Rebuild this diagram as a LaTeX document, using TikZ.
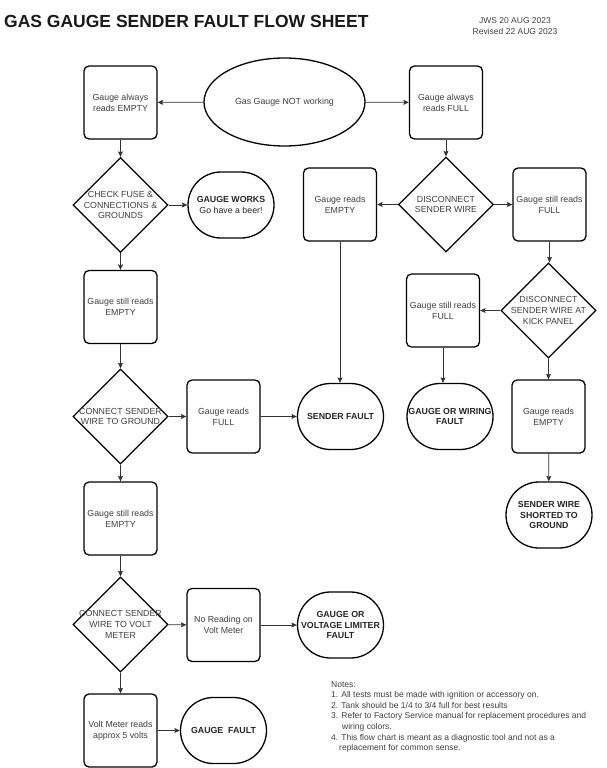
\documentclass[tikz,border=0pt]{standalone}
\usepackage{fontspec}
\setmainfont{Liberation Sans}
\usetikzlibrary{positioning,arrows.meta,shapes}

\begin{document}
\begin{tikzpicture}[x=1pt, y=-1pt,
  >={Stealth[length=5.5pt,width=5pt,inset=1pt]},
  chkbox/.style={draw, line width=1.3pt, rounded corners=5pt, minimum width=73pt, minimum height=73pt,
    inner sep=1pt, align=center, text=black!75, font=\fontsize{8.8}{11}\selectfont},
  decide/.style={draw, diamond, line width=1.3pt, minimum width=95pt, minimum height=95pt, inner sep=0pt},
  dtext/.style={align=center, text=black!75, font=\fontsize{8.8}{10.6}\selectfont},
  result/.style={draw, rounded rectangle, line width=1.3pt, minimum width=88pt, minimum height=66pt,
    inner sep=1pt, align=center, text=black!85, font=\fontsize{8.8}{10.6}\selectfont\bfseries},
  flow/.style={->, line width=0.75pt, draw=black!80}]
  \useasboundingbox (0,0) rectangle (607,768);

  % heading
  \node[anchor=west, inner sep=0pt, text=black!90, font=\fontsize{17.5}{20}\selectfont\bfseries] (title) at (4,21.5) {GAS GAUGE SENDER FAULT FLOW SHEET};
  \node[align=center, inner sep=0pt, text=black!75, font=\fontsize{8.5}{11}\selectfont] (date) at (515,26) {JWS 20 AUG 2023\\Revised 22 AUG 2023};

  % start
  \node[draw, ellipse, line width=1.3pt, minimum width=161pt, minimum height=88pt, inner sep=0pt,
    text=black!75, font=\fontsize{8.8}{11}\selectfont] (start) at (284.5,102) {Gas Gauge NOT working};
  \node[chkbox] (alwempty) at (120.5,102.5) {Gauge always\\reads EMPTY};
  \node[chkbox] (alwfull) at (446,102.5) {Gauge always\\reads FULL};

  % empty side
  \node[decide, label={[dtext]center:CHECK FUSE \&\\CONNECTIONS \&\\GROUNDS}] (fuse) at (120.5,205) {};
  \node[result] (works) at (231,205) {GAUGE WORKS\\\mdseries Go have a beer!};
  \node[chkbox] (still1) at (120.5,307) {Gauge still reads\\EMPTY};
  \node[decide, label={[dtext]center:CONNECT SENDER\\WIRE TO GROUND}] (ground) at (120.5,416.5) {};
  \node[chkbox] (readfull) at (223.5,416.5) {Gauge reads\\FULL};
  \node[result] (sender) at (340.5,416.5) {SENDER FAULT};
  \node[chkbox] (still2) at (120.5,518.5) {Gauge still reads\\EMPTY};
  \node[decide, label={[dtext]center:CONNECT SENDER\\WIRE TO VOLT\\METER}] (volt) at (120.5,624.5) {};
  \node[chkbox] (noread) at (223.5,625) {No Reading on\\Volt Meter};
  \node[result] (limiter) at (340.5,625) {GAUGE OR\\VOLTAGE LIMITER\\FAULT};
  \node[chkbox] (fivev) at (120.5,730.5) {Volt Meter reads\\approx 5 volts};
  \node[result] (gauge) at (223.5,730.5) {GAUGE\ \ FAULT};

  % full side
  \node[decide, label={[dtext]center:DISCONNECT\\SENDER WIRE}] (disc) at (446,204.5) {};
  \node[chkbox] (readempty) at (340,204.5) {Gauge reads\\EMPTY};
  \node[chkbox] (stillfull) at (549.5,204.5) {Gauge still reads\\FULL};
  \node[decide, label={[dtext]center:DISCONNECT\\SENDER WIRE AT\\KICK PANEL}] (kick) at (548.5,310.5) {};
  \node[chkbox] (stillfull2) at (443,310.5) {Gauge still reads\\FULL};
  \node[result] (wiring) at (450,416.5) {GAUGE OR WIRING\\FAULT};
  \node[chkbox] (readempty2) at (548.5,416.5) {Gauge reads\\EMPTY};
  \node[result] (shorted) at (549,515) {SENDER WIRE\\SHORTED TO\\GROUND};

  % notes
  \node[anchor=north west, align=left, inner sep=0pt, text=black!75, font=\fontsize{8.5}{10.6}\selectfont] (notes) at (331,681)
    {Notes:\\
     1. All tests must be made with ignition or accessory on.\\
     2. Tank should be 1/4 to 3/4 full for best results\\
     3. Refer to Factory Service manual for replacement procedures and\\
     \hspace*{11pt}wiring colors.\\
     4. This flow chart is meant as a diagnostic tool and not as a\\
     \hspace*{8pt}replacement for common sense.};

  % connectors
  \draw[flow] (start) -- (alwempty);
  \draw[flow] (start) -- (alwfull);
  \draw[flow] (alwempty) -- (fuse);
  \draw[flow] (fuse) -- (works);
  \draw[flow] (fuse) -- (still1);
  \draw[flow] (still1) -- (ground);
  \draw[flow] (ground) -- (readfull);
  \draw[flow] (readfull) -- (sender);
  \draw[flow] (ground) -- (still2);
  \draw[flow] (still2) -- (volt);
  \draw[flow] (volt) -- (noread);
  \draw[flow] (noread) -- (limiter);
  \draw[flow] (volt) -- (fivev);
  \draw[flow] (fivev) -- (gauge);
  \draw[flow] (alwfull) -- (disc);
  \draw[flow] (disc) -- (readempty);
  \draw[flow] (disc) -- (stillfull);
  \draw[flow] (readempty.south) -- (readempty.south |- sender.north);
  \draw[flow] (stillfull) -- (stillfull |- kick.north);
  \draw[flow] (kick) -- (stillfull2);
  \draw[flow] (stillfull2.south) -- (stillfull2.south |- wiring.north);
  \draw[flow] (kick) -- (readempty2);
  \draw[flow] (readempty2) -- (shorted);
\end{tikzpicture}
\end{document}
